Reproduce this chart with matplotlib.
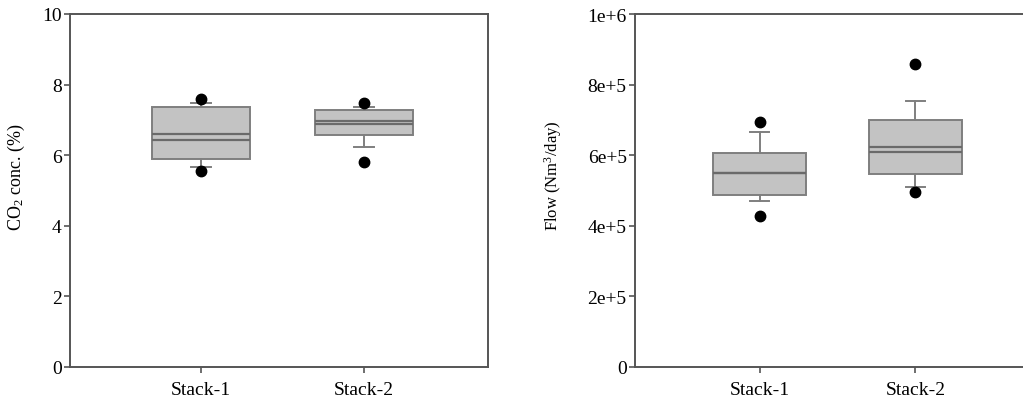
import matplotlib
matplotlib.use("Agg")
import matplotlib.pyplot as plt

plt.rcParams['font.family'] = ['Liberation Serif', 'DejaVu Serif']
plt.rcParams['mathtext.fontset'] = 'custom'
plt.rcParams['mathtext.rm'] = 'Liberation Serif'
plt.rcParams['mathtext.it'] = 'Liberation Serif:italic'

categories = ["Stack-1", "Stack-2"]

# CO2 concentration (%) summary stats
co2_q1 = [5.88, 6.58]
co2_q3 = [7.37, 7.28]
co2_med = [6.44, 6.88]
co2_mean = [6.60, 6.98]
co2_whislo = [5.67, 6.22]
co2_whishi = [7.48, 7.37]
co2_fliers = [[7.59, 5.54], [7.48, 5.80]]

# Flow (Nm3/day) summary stats
flow_q1 = [4.88e5, 5.47e5]
flow_q3 = [6.05e5, 7.00e5]
flow_med = [5.50e5, 6.08e5]
flow_mean = [5.50e5, 6.24e5]
flow_whislo = [4.71e5, 5.11e5]
flow_whishi = [6.65e5, 7.54e5]
flow_fliers = [[6.93e5, 4.27e5], [8.58e5, 4.95e5]]

co2_ticks = [0, 2, 4, 6, 8, 10]
flow_ticks = [0, 2e5, 4e5, 6e5, 8e5, 1e6]
flow_ticklabels = ["0", "2e+5", "4e+5", "6e+5", "8e+5", "1e+6"]

W, H = 1023, 402
fig = plt.figure(figsize=(W / 100, H / 100), dpi=100)

spine_col = "#555555"
box_face = "#c3c3c3"
box_edge = "#7f7f7f"
line_col = "#6a6a6a"


def make_stats(q1, q3, med, mean, lo, hi, fl):
    out = []
    for i in range(len(q1)):
        out.append(dict(q1=q1[i], q3=q3[i], med=med[i], mean=mean[i],
                        whislo=lo[i], whishi=hi[i], fliers=fl[i], label=categories[i]))
    return out


def draw(ax, stats):
    ax.bxp(stats, positions=[1, 2], widths=0.6, patch_artist=True,
           showmeans=True, meanline=True, showfliers=True,
           boxprops=dict(facecolor=box_face, edgecolor=box_edge, linewidth=1.4),
           medianprops=dict(color=line_col, linewidth=1.6),
           meanprops=dict(color=line_col, linewidth=1.6, linestyle='-'),
           whiskerprops=dict(color=box_edge, linewidth=1.4),
           capprops=dict(color=box_edge, linewidth=1.4),
           capwidths=0.125,
           flierprops=dict(marker='o', markerfacecolor='black', markeredgecolor='black',
                           markersize=7.5))
    for s in ax.spines.values():
        s.set_color(spine_col)
        s.set_linewidth(1.4)
    ax.tick_params(axis='both', direction='out', length=4, width=1.2, color=spine_col,
                   labelsize=14, pad=2)
    ax.tick_params(axis='x', pad=6)
    ax.set_xticks([1, 2])
    ax.set_xticklabels(categories)


ax1 = fig.add_axes([70 / W, 1 - 368 / H, (488 - 70) / W, (368 - 15) / H])
draw(ax1, make_stats(co2_q1, co2_q3, co2_med, co2_mean, co2_whislo, co2_whishi, co2_fliers))
ax1.set_xlim(0.196, 2.76)
ax1.set_ylim(0, 10)
ax1.set_yticks(co2_ticks)
ax1.set_ylabel("CO$_2$ conc. (%)", fontsize=13)
ax1.yaxis.set_label_coords(-0.103, 0.54)

ax2 = fig.add_axes([635 / W, 1 - 368 / H, (1023 - 635) / W, (368 - 15) / H])
draw(ax2, make_stats(flow_q1, flow_q3, flow_med, flow_mean, flow_whislo, flow_whishi, flow_fliers))
ax2.set_xlim(0.2, 2.69)
ax2.set_ylim(0, 1e6)
ax2.set_yticks(flow_ticks)
ax2.set_yticklabels(flow_ticklabels)
ax2.spines['right'].set_visible(False)
ax2.set_ylabel("Flow (Nm$^3$/day)", fontsize=12)
ax2.yaxis.set_label_coords(-0.183, 0.545)

fig.savefig("out.png", dpi=100)
